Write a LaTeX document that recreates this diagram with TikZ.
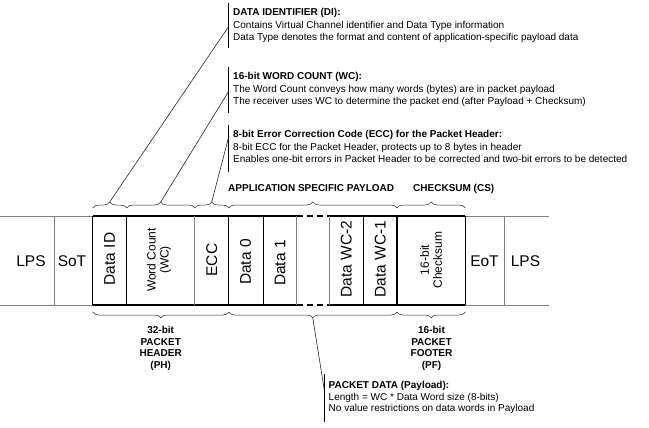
\documentclass[tikz,border=0pt]{standalone}
\usepackage{fontspec}
\setmainfont{Liberation Sans}
\usetikzlibrary{decorations.pathreplacing}
\begin{document}
\begin{tikzpicture}[x=1pt,y=-1pt,
  gline/.style={draw=black!50, line width=0.6pt},
  kline/.style={draw=black, line width=1.4pt},
  tline/.style={draw=black, line width=0.8pt},
  dline/.style={draw=black, line width=1.4pt, dash pattern=on 6pt off 4pt},
  lbl/.style={font=\fontsize{15.5}{17}\selectfont, inner sep=0},
  rlbl/.style={lbl, rotate=90},
  slbl/.style={font=\fontsize{12}{13}\selectfont, rotate=90, align=center, inner sep=0},
  desc/.style={font=\fontsize{10}{12.5}\selectfont, align=left, anchor=base west, inner sep=0},
  hdr/.style={font=\bfseries\fontsize{10}{12}\selectfont, anchor=base west, inner sep=0},
  foot/.style={font=\bfseries\fontsize{10}{11.6}\selectfont, align=center, anchor=base, inner sep=0},
  brc/.style={decorate, decoration={brace, amplitude=6pt}, draw=black!85, line width=0.5pt},
  leader/.style={draw=black!85, line width=0.6pt},
  bar/.style={draw=black, line width=0.8pt}]
\useasboundingbox (0,0) rectangle (649,428);

% ---- horizontal rails ----
\draw[gline] (0,216) -- (92.7,216);
\draw[gline] (0,305) -- (92.7,305);
\draw[gline] (465.3,216) -- (549,216);
\draw[gline] (465.3,305) -- (549,305);
\draw[kline] (92.7,216) -- (296.7,216);
\draw[kline] (92.7,305) -- (296.7,305);
\draw[dline] (296.7,216) -- (329.3,216);
\draw[dline] (296.7,305) -- (329.3,305);
\draw[kline] (329.3,216) -- (465.3,216);
\draw[kline] (329.3,305) -- (465.3,305);

% ---- vertical separators ----
\draw[gline] (54,216) -- (54,305);
\draw[kline] (92.7,216) -- (92.7,305);
\draw[tline] (126.7,216) -- (126.7,305);
\draw[gline] (194.7,216) -- (194.7,305);
\draw[kline] (228.7,216) -- (228.7,305);
\draw[tline] (263.3,216) -- (263.3,305);
\draw[gline] (296.7,216) -- (296.7,305);
\draw[gline] (329.3,216) -- (329.3,305);
\draw[tline] (363.3,216) -- (363.3,305);
\draw[kline] (397,216) -- (397,305);
\draw[kline] (465.3,216) -- (465.3,305);
\draw[gline] (504.3,216) -- (504.3,305);

% ---- cell labels ----
\node[lbl] (lps1) at (31,261) {LPS};
\node[lbl] (sot) at (72,261) {SoT};
\node[rlbl] (did) at (109.7,259) {Data ID};
\node[slbl] (wc) at (159,260) {Word Count\\(WC)};
\node[rlbl] (ecc) at (211.7,260) {ECC};
\node[rlbl] (d0) at (245.5,262) {Data 0};
\node[rlbl] (d1) at (280,263) {Data 1};
\node[rlbl] (dwc2) at (346.3,259) {Data WC-2};
\node[rlbl] (dwc1) at (380.2,259) {Data WC-1};
\node[slbl] (cks) at (431,260) {16-bit\\Checksum};
\node[lbl] (eot) at (484.5,261) {EoT};
\node[lbl] (lps2) at (525.5,261) {LPS};

% ---- top braces ----
\draw[brc] (92.7,208) -- (126.7,208);
\draw[brc] (126.7,208) -- (194.7,208);
\draw[brc] (194.7,208) -- (228.7,208);
\draw[brc] (228.7,208) -- (397,208);
\draw[brc] (397,208) -- (465.3,208);
\coordinate (tipDI) at (109.7,202);
\coordinate (tipWC) at (160.7,202);
\coordinate (tipECC) at (211.7,202);

% ---- bottom braces ----
\draw[brc] (228.7,312) -- (92.7,312);
\draw[brc] (397,312) -- (228.7,312);
\draw[brc] (465.3,312) -- (397,312);
\coordinate (tipPD) at (312.8,318);

% ---- description blocks (base anchor = last line) ----
\draw[bar] (228.3,3) -- (228.3,48);
\coordinate (barDI) at (228.3,27);
\node[hdr] (hDI) at (233,16) {DATA IDENTIFIER (DI):};
\node[desc] (tDI) at (233,41) {Contains Virtual Channel identifier and Data Type information\\Data Type denotes the format and content of application-specific payload data};

\draw[bar] (228.3,67) -- (228.3,113);
\coordinate (barWC) at (228.3,92);
\node[hdr] (hWC) at (233,80) {16-bit WORD COUNT (WC):};
\node[desc] (tWC) at (233,105) {The Word Count conveys how many words (bytes) are in packet payload\\The receiver uses WC to determine the packet end (after Payload + Checksum)};

\draw[bar] (228.3,125) -- (228.3,172);
\coordinate (barECC) at (228.3,138.5);
\node[hdr] (hECC) at (233,137.5) {8-bit Error Correction Code (ECC) for the Packet Header:};
\node[desc] (tECC) at (233,162.5) {8-bit ECC for the Packet Header, protects up to 8 bytes in header\\Enables one-bit errors in Packet Header to be corrected and two-bit errors to be detected};

\draw[leader] (tipDI) -- (barDI);
\draw[leader] (tipWC) -- (barWC);
\draw[leader] (tipECC) -- (barECC);

% ---- section titles ----
\node[hdr] (asp) at (228,192) {APPLICATION SPECIFIC PAYLOAD};
\node[hdr] (csl) at (413,192) {CHECKSUM (CS)};

% ---- footer titles ----
\node[foot] (ph) at (160.7,368.3) {32-bit\\PACKET\\HEADER\\(PH)};
\node[foot] (pf) at (431.5,368.3) {16-bit\\PACKET\\FOOTER\\(PF)};

% ---- payload description ----
\draw[bar] (324.3,374) -- (324.3,422);
\coordinate (barPD) at (324.3,390);
\draw[leader] (tipPD) -- (barPD);
\node[hdr] (hPD) at (328.5,388) {PACKET DATA (Payload):};
\node[desc, font=\fontsize{10}{11.8}\selectfont] (tPD) at (328.5,411.8) {Length = WC * Data Word size (8-bits)\\No value restrictions on data words in Payload};
\end{tikzpicture}
\end{document}
